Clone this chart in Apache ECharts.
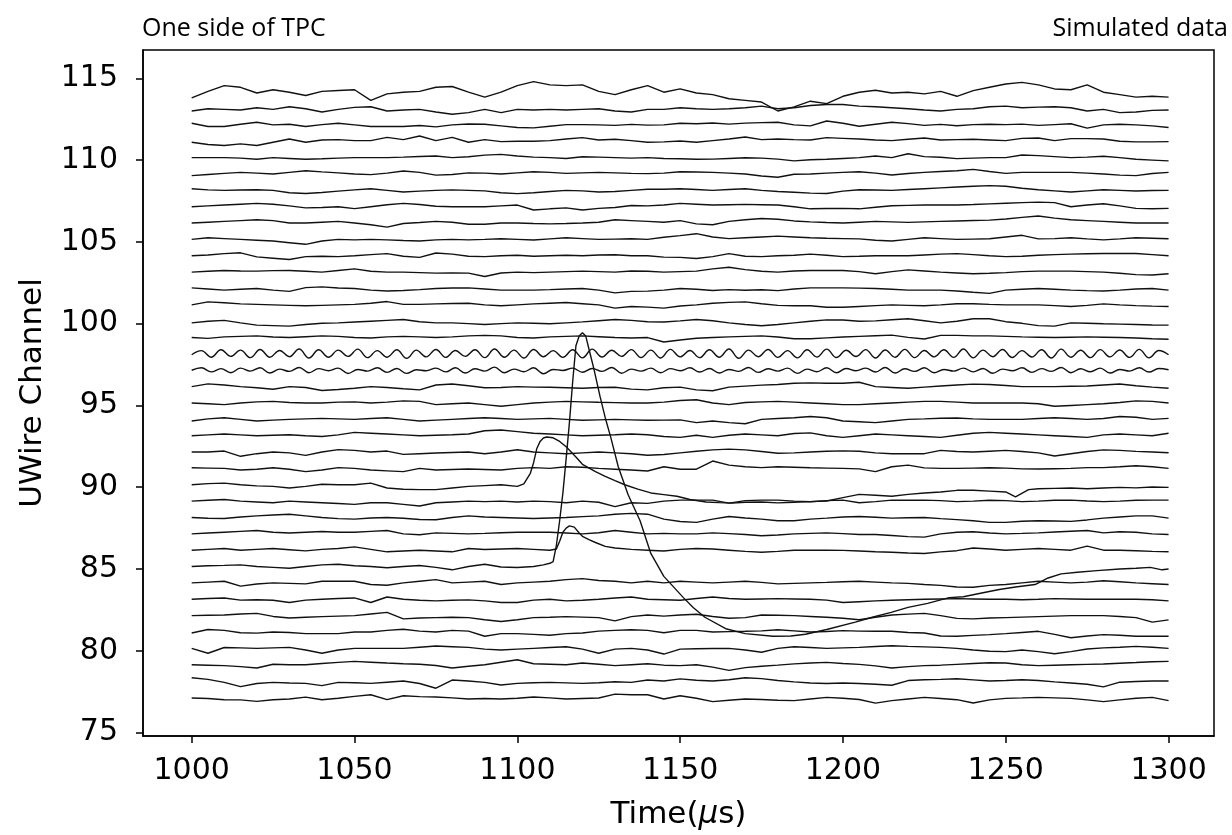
<!DOCTYPE html>
<html><head><meta charset="utf-8">
<script src="https://cdn.jsdelivr.net/npm/echarts@6/dist/echarts.min.js"></script>
<style>html,body{margin:0;padding:0;background:#fff}#c{width:1232px;height:835px}</style>
</head><body><div id="c"></div>
<script>
// sample times (µs)
const times5 = [1000,1005,1010,1015,1020,1025,1030,1035,1040,1045,1050,1055,1060,1065,1070,1075,1080,1085,1090,1095,1100,1105,1110,1115,1120,1125,1130,1135,1140,1145,1150,1155,1160,1165,1170,1175,1180,1185,1190,1195,1200,1205,1210,1215,1220,1225,1230,1235,1240,1245,1250,1255,1260,1265,1270,1275,1280,1285,1290,1295,1300];
const times3 = [1000,1003,1006,1009,1012,1015,1018,1021,1024,1027,1030,1033,1036,1039,1042,1045,1048,1051,1054,1057,1060,1063,1066,1069,1072,1075,1078,1081,1084,1087,1090,1093,1096,1099,1102,1105,1108,1111,1114,1117,1120,1123,1126,1129,1132,1135,1138,1141,1144,1147,1150,1153,1156,1159,1162,1165,1168,1171,1174,1177,1180,1183,1186,1189,1192,1195,1198,1201,1204,1207,1210,1213,1216,1219,1222,1225,1228,1231,1234,1237,1240,1243,1246,1249,1252,1255,1258,1261,1264,1267,1270,1273,1276,1279,1282,1285,1288,1291,1294,1297,1300];

// tick labels
const xTicks = [1000,1050,1100,1150,1200,1250,1300];
const yTicks = [75,80,85,90,95,100,105,110,115];

// waveform offsets from the channel number, in hundredths of a channel
const ch114 = [-20,20,55,45,10,30,15,-5,20,25,30,-35,5,15,20,45,50,15,-15,15,55,80,60,55,60,20,0,30,55,15,35,10,0,-25,-35,-45,-100,-75,-40,-55,-10,15,27,10,15,5,20,-10,25,45,65,75,60,35,30,60,15,0,-15,-10,-15];
const ch113 = [0,14,10,6,20,10,26,14,-6,10,22,26,0,6,10,-6,-20,-10,10,-10,10,6,10,6,10,14,0,-6,10,10,20,14,10,14,20,30,14,20,34,40,40,30,26,20,14,6,0,10,14,26,30,20,24,26,20,0,10,-10,-6,4,6];
const ch112 = [25,5,5,19,31,15,19,5,17,25,15,5,5,5,11,3,15,21,19,9,-1,-3,7,17,17,15,12,18,14,15,25,22,27,20,26,29,31,15,9,39,25,7,19,31,23,12,18,10,17,19,17,20,12,17,22,-5,15,19,15,9,-1];
const ch111 = [9,-5,-11,-1,-11,9,29,9,23,25,19,19,39,25,47,19,39,9,25,13,15,15,19,29,37,23,27,19,9,11,17,9,19,29,41,25,29,25,23,37,33,29,23,19,27,35,23,25,27,23,19,33,35,19,31,31,29,15,11,11,13];
const ch110 = [15,15,15,12,5,15,10,5,8,12,15,15,15,18,22,25,15,20,30,35,25,18,15,10,20,18,15,12,15,10,8,5,6,10,14,12,6,-5,2,5,10,15,25,15,39,21,17,9,12,15,15,31,27,21,15,18,23,15,5,0,-5];
const ch109 = [5,12,19,25,20,15,25,35,28,22,15,11,20,33,25,8,12,22,20,15,22,29,25,19,22,25,22,19,17,20,29,27,25,20,15,3,-5,13,15,20,25,29,20,9,18,25,30,35,43,30,19,25,25,25,25,20,15,8,5,18,25];
const ch108 = [25,18,15,17,19,15,0,-4,2,10,18,25,15,5,10,15,18,15,12,0,-5,0,8,15,12,5,8,15,22,22,25,20,15,20,25,15,8,3,-2,-4,10,19,17,15,20,25,30,35,40,44,40,28,19,12,5,12,19,15,11,14,15];
const ch107 = [15,20,25,30,35,30,20,8,10,15,3,15,27,35,28,18,15,15,15,20,25,-5,2,8,-5,5,10,22,20,25,35,30,25,27,29,27,25,15,2,4,5,2,12,21,23,25,25,25,28,32,36,40,43,40,15,25,33,20,5,2,5];
const ch106 = [15,20,25,30,35,30,15,15,20,25,15,5,-10,12,18,25,20,8,8,15,15,12,10,12,15,20,35,30,25,20,30,10,5,25,35,43,38,28,22,18,15,20,25,22,19,22,25,28,31,33,40,50,58,45,35,30,25,20,15,15,15];
const ch105 = [15,25,20,15,10,5,-5,-15,5,15,12,15,12,8,5,12,15,12,15,19,15,11,18,25,20,15,17,19,15,28,38,50,30,20,25,30,35,30,25,22,20,18,10,5,15,25,20,15,17,19,30,40,18,20,25,18,12,18,25,22,19];
const ch104 = [15,20,28,33,8,0,-8,10,12,10,15,22,28,12,5,32,25,12,10,15,18,12,15,18,15,20,21,15,15,7,5,-2,10,28,12,10,15,18,25,18,10,12,15,15,15,20,25,28,22,15,10,12,18,22,25,27,29,29,29,22,15];
const ch103 = [15,20,25,22,21,24,25,20,15,25,35,20,15,15,12,9,10,9,-12,10,15,12,15,18,21,18,15,22,20,15,18,21,35,45,30,20,15,22,25,25,25,18,5,18,29,22,15,10,5,8,12,18,21,21,21,18,15,8,0,-3,5];
const ch102 = [19,12,5,10,15,5,-3,20,25,18,15,5,0,3,8,15,18,19,12,5,5,5,8,12,15,5,-12,-3,-1,5,15,10,3,8,4,7,2,12,19,19,19,17,15,10,5,5,5,0,-8,-15,5,10,15,10,5,2,0,5,12,15,5];
const ch101 = [15,33,28,21,18,15,12,9,12,15,18,25,35,18,18,21,23,25,15,9,15,21,25,29,22,15,-5,5,1,-5,8,15,25,30,33,22,12,9,9,0,0,5,10,15,12,9,15,22,22,18,15,15,15,10,5,12,21,15,10,7,5];
const ch100 = [5,15,20,5,-9,-12,-15,-5,2,5,10,15,20,25,12,5,5,0,-5,0,5,2,-1,5,11,18,25,20,12,10,17,25,18,5,-5,-13,-5,5,15,23,22,15,17,24,30,18,5,15,30,30,12,2,-12,-15,5,2,-1,-3,-5,-8,-9];
const ch99 = [15,10,19,22,25,18,15,20,25,22,15,12,19,22,19,15,19,25,28,25,15,12,19,22,25,20,15,12,15,-12,0,11,15,19,22,25,18,8,8,13,18,22,26,30,16,6,28,28,25,25,22,19,17,15,17,19,17,15,12,8,5];
const ch98 = [10,35,-5,40,0,38,-8,42,-5,36,-2,45,-10,40,-5,38,0,44,-8,35,-5,40,-12,38,-3,42,-6,36,0,40,-8,45,-5,38,-10,42,-2,35,-6,40,-9,44,-4,37,0,41,-7,38,-10,43,-3,36,-8,40,-5,45,-12,38,-2,42,-6,35,-9,40,-4,44,-7,37,-1,41,-10,39,-5,43,-8,36,-3,40,-6,45,-9,38,-2,42,-7,35,-4,40,-10,44,-5,37,-8,41,-3,39,-6,43,-9,36,10];
const ch97 = [15,30,5,25,0,28,10,30,-2,22,8,32,0,25,12,28,-5,20,10,30,2,26,-4,18,12,28,5,30,-2,24,10,34,0,22,6,30,-6,20,14,28,3,26,8,32,-3,22,10,28,0,25,12,30,4,26,-2,20,8,32,2,24,10,28,-4,22,6,30,0,26,12,28,4,32,-2,24,8,30,0,20,10,28,5,26,-3,22,12,30,2,25,8,32,0,24,6,28,-2,20,10,30,4,26,18];
const ch96 = [15,32,25,15,8,-1,15,10,-9,-3,5,15,10,2,-5,25,31,20,8,10,15,12,11,8,5,10,11,0,-5,8,12,-5,-10,12,18,24,28,36,38,36,36,42,15,10,5,12,19,25,30,28,22,15,15,15,17,19,25,31,20,12,5];
const ch95 = [15,10,5,15,22,25,18,15,15,20,22,15,20,28,25,5,10,15,5,-5,5,15,20,25,22,19,17,15,15,20,30,35,15,5,18,22,25,20,15,10,5,5,10,15,20,25,25,20,15,15,15,15,10,-5,0,5,10,18,28,25,15];
const ch94 = [5,18,25,15,5,10,15,18,21,18,15,20,25,15,5,10,15,20,25,20,15,18,21,15,9,12,15,12,9,10,12,-5,5,-5,-12,15,20,25,32,25,5,0,-5,5,15,18,22,23,18,15,15,15,20,25,20,15,20,32,28,15,21];
const ch93 = [15,20,25,20,15,18,21,15,10,20,35,30,25,20,15,18,21,25,45,50,40,30,25,20,15,18,21,25,21,10,5,18,5,18,25,20,15,28,32,15,5,15,25,20,15,10,5,18,30,35,30,25,20,15,10,5,20,25,20,15,30];
const ch92 = [15,15,21,-11,5,15,10,-5,15,30,25,15,21,1,5,9,12,15,5,15,29,15,10,5,10,15,10,5,-5,0,10,20,28,33,28,18,8,10,15,20,22,20,10,5,5,5,25,18,15,20,25,18,10,-9,5,18,28,25,19,15,11];
const ch91 = [19,17,15,5,10,19,10,-5,5,20,15,5,0,-5,15,5,8,11,8,5,15,20,15,25,22,15,10,5,-1,25,10,10,60,35,25,20,25,22,19,17,15,12,-5,25,35,18,15,15,17,19,17,12,11,13,15,20,20,25,31,25,15];
const ch90 = [[1000,15],[1005,22],[1010,25],[1015,15],[1020,8],[1025,5],[1030,-5],[1035,5],[1040,18],[1045,15],[1050,15],[1055,25],[1060,-5],[1065,-12],[1070,-15],[1075,-15],[1080,-5],[1085,5],[1090,10],[1095,15],[1100,5],[1102,20],[1104,85],[1105,150],[1106,237],[1107,280],[1108,301],[1109,307],[1111,302],[1113,280],[1115,247],[1118,185],[1120,140],[1124,95],[1127,66],[1130,40],[1133,15],[1137,-12],[1141,-35],[1145,-45],[1149,-55],[1153,-75],[1158,-90],[1162,-94],[1166,-97],[1170,-92],[1175,-90],[1180,-96],[1185,-92],[1190,-88],[1195,-84],[1200,-64],[1205,-44],[1210,-49],[1215,-55],[1220,-44],[1225,-35],[1230,-29],[1235,-19],[1240,-19],[1245,-24],[1250,-29],[1253,-59],[1257,-15],[1260,-9],[1265,-7],[1270,-5],[1275,-9],[1280,-5],[1285,-1],[1290,-4],[1295,1],[1300,-1]];
const ch89 = [15,20,25,15,10,5,15,10,5,0,-5,5,5,-5,-15,5,10,15,12,15,10,15,12,5,15,8,-19,5,1,15,21,21,21,3,18,21,21,15,11,18,21,5,12,21,20,21,18,12,15,20,18,12,15,20,21,16,12,15,20,21,21];
const ch88 = [15,10,9,18,25,30,35,25,15,8,5,12,15,10,3,1,15,25,18,15,12,9,12,15,20,25,35,40,35,5,-10,-15,5,21,12,5,-5,-5,5,11,18,21,16,11,13,15,8,2,-5,-15,-15,-8,-5,-7,-9,0,11,18,25,25,11];
const ch87 = [15,20,25,30,35,25,20,25,29,25,25,30,35,15,9,21,18,15,18,22,25,25,25,20,15,22,35,25,15,18,15,15,21,16,11,3,8,15,18,21,16,11,11,5,-2,-5,15,25,28,20,15,18,21,26,31,35,21,28,25,15,11];
const ch86 = [[1000,15],[1005,20],[1010,25],[1015,15],[1020,20],[1025,25],[1030,18],[1035,11],[1040,20],[1045,25],[1050,35],[1055,20],[1060,5],[1065,10],[1070,15],[1075,10],[1080,5],[1085,25],[1090,19],[1095,22],[1100,25],[1105,20],[1110,15],[1112,22],[1113,70],[1114,125],[1115,150],[1116,164],[1117.5,156],[1119,120],[1120,100],[1122,80],[1124,62],[1127,38],[1130,28],[1135,20],[1140,15],[1145,10],[1150,20],[1155,25],[1160,22],[1165,15],[1170,8],[1175,2],[1180,8],[1185,15],[1190,15],[1195,15],[1200,14],[1205,10],[1210,5],[1215,2],[1220,-2],[1225,-5],[1230,5],[1235,12],[1240,28],[1245,22],[1250,15],[1255,20],[1260,25],[1265,20],[1270,15],[1275,40],[1280,15],[1285,15],[1290,12],[1295,8],[1300,5]];
const ch85 = [[1000,15],[1005,20],[1010,22],[1015,25],[1020,15],[1025,10],[1030,5],[1035,15],[1040,25],[1045,29],[1050,20],[1055,15],[1060,8],[1065,15],[1070,21],[1075,10],[1080,-5],[1085,15],[1090,29],[1095,12],[1100,9],[1105,15],[1108,25],[1110,35],[1111,45],[1112,145],[1113,295],[1114,465],[1115,675],[1116,895],[1117,1145],[1118,1365],[1119,1425],[1120,1445],[1121,1425],[1122,1345],[1123.5,1225],[1125.4,1055],[1127,925],[1128.7,805],[1131,625],[1134,455],[1137.7,295],[1141,95],[1145,-45],[1151,-175],[1154,-235],[1157.6,-295],[1164,-365],[1170,-395],[1178.5,-411],[1184,-410],[1188.5,-399],[1195,-370],[1203.8,-325],[1209,-295],[1214.8,-265],[1220,-235],[1226,-210],[1232.6,-175],[1237,-170],[1243,-145],[1248,-125],[1253,-110],[1259,-95],[1263,-55],[1267,-30],[1272,-20],[1278,-10],[1285,0],[1290,5],[1294.4,10],[1298,-5],[1300,0]];
const ch84 = [15,20,25,-5,8,15,12,9,25,25,25,5,1,15,25,35,15,20,25,5,15,20,25,35,41,30,25,15,25,15,25,20,15,20,25,18,9,12,15,18,22,25,20,15,12,5,0,-10,-12,0,5,15,25,20,15,20,28,22,15,10,5];
const ch83 = [15,20,23,10,12,9,-5,10,15,20,23,-5,29,15,9,5,9,11,5,-5,-5,10,15,5,9,15,23,29,15,12,9,20,29,20,15,17,19,17,15,10,-5,0,5,9,12,15,17,19,17,15,15,12,15,19,17,15,15,15,15,12,5];
const ch82 = [15,17,19,25,29,10,0,5,9,12,15,25,35,-5,0,3,5,3,-10,-21,-10,3,5,9,6,3,-17,9,19,12,19,23,10,-1,3,19,17,15,10,5,-1,-10,5,19,24,29,15,-2,-5,0,3,6,9,12,15,15,15,10,3,-25,-11];
const ch81 = [9,30,25,10,8,15,12,5,5,5,15,15,25,32,20,15,25,20,-11,5,5,0,-5,5,9,20,25,29,25,10,25,25,15,17,19,22,29,22,15,18,23,20,19,19,12,9,-10,-11,-6,-1,5,12,19,0,-20,-10,-1,-5,-11,-11,-11];
const ch80 = [15,-15,20,18,15,18,21,5,-15,5,15,15,15,15,22,29,25,21,10,5,10,15,20,25,10,-15,10,15,5,-20,10,12,14,15,5,-9,15,25,20,15,18,21,26,31,27,24,21,15,5,-3,-5,5,-5,-18,-5,11,18,22,27,22,15];
const ch79 = [15,12,9,3,-5,18,15,15,22,29,35,30,25,21,18,10,-5,5,15,30,45,21,18,15,25,18,9,15,21,12,9,15,0,-20,-3,5,12,20,25,29,22,17,8,-5,3,9,12,17,22,27,25,15,9,12,15,17,19,24,28,33,35];
const ch78 = [35,25,7,-19,0,7,3,1,-13,7,5,1,8,15,0,-29,21,15,7,-9,1,5,7,4,1,5,11,7,21,15,28,20,15,23,35,30,18,10,3,0,3,0,-5,-11,18,23,25,29,22,15,18,23,18,10,3,-5,-21,8,12,15,15];
const ch77 = [11,8,1,0,-9,1,5,17,1,10,21,31,1,25,20,17,12,5,8,5,10,17,12,5,8,11,35,31,31,5,25,10,-11,-2,5,2,-2,-5,5,15,10,2,-20,-5,5,15,8,1,-19,0,9,12,15,12,9,0,-11,0,10,15,-5];

const gridTraces = [[114,ch114],[113,ch113],[112,ch112],[111,ch111],[110,ch110],[109,ch109],[108,ch108],[107,ch107],[106,ch106],[105,ch105],[104,ch104],[103,ch103],[102,ch102],[101,ch101],[100,ch100],[99,ch99],[96,ch96],[95,ch95],[94,ch94],[93,ch93],[92,ch92],[91,ch91],[89,ch89],[88,ch88],[87,ch87],[84,ch84],[83,ch83],[82,ch82],[81,ch81],[80,ch80],[79,ch79],[78,ch78],[77,ch77]];
const fineTraces = [[98,ch98],[97,ch97]];
const pulseTraces = [[90,ch90],[86,ch86],[85,ch85]];

const series = [];
function mk(data, smooth){
  return {type:'line', data:data, showSymbol:false, symbol:'none', silent:true, smooth:smooth || false,
    lineStyle:{color:'#111', width:1.4}, animation:false};
}
gridTraces.forEach(([ch,d]) => series.push(mk(times5.map((t,i)=>[t, ch + d[i]/100]))));
fineTraces.forEach(([ch,d]) => series.push(mk(times3.map((t,i)=>[t, ch + d[i]/100]), 0.4)));
pulseTraces.forEach(([ch,p]) => series.push(mk(p.map(q=>[q[0], ch + q[1]/100]))));

const chart = echarts.init(document.getElementById('c'), null, {renderer:'canvas'});
const font = 'DejaVu Sans';
chart.setOption({
  animation:false,
  backgroundColor:'#fff',
  grid:{left:143, right:18, top:50, bottom:94, show:true, borderColor:'#000', borderWidth:1.5, backgroundColor:'transparent'},
  xAxis:{type:'value', min:985.05, max:1313.95,
    name:'Time({i|μ}s)', nameLocation:'middle', nameGap:63,
    nameTextStyle:{fontFamily:font, fontSize:31, color:'#000', rich:{i:{fontFamily:font, fontSize:31, fontStyle:'italic', color:'#000'}}},
    axisLine:{show:true, lineStyle:{color:'#000', width:1.5}},
    axisTick:{show:true, length:7, lineStyle:{color:'#000', width:1.5}, customValues:xTicks},
    axisLabel:{fontFamily:font, fontSize:30, color:'#000', margin:20, customValues:xTicks, formatter:(v)=>String(v)},
    splitLine:{show:false}},
  yAxis:{type:'value', min:74.79, max:116.73,
    name:'UWire Channel', nameLocation:'middle', nameGap:95,
    nameTextStyle:{fontFamily:font, fontSize:31, color:'#000'},
    axisLine:{show:true, lineStyle:{color:'#000', width:1.5}},
    axisTick:{show:true, length:7, lineStyle:{color:'#000', width:1.5}, customValues:yTicks},
    axisLabel:{fontFamily:font, fontSize:30, color:'#000', margin:25, customValues:yTicks, formatter:(v)=>String(v)},
    splitLine:{show:false}},
  graphic:[
    {type:'text', left:142, top:16, style:{text:'One side of TPC', font:'25px "Open Sans"', fill:'#000'}},
    {type:'text', right:4, top:16, style:{text:'Simulated data', font:'25px "Open Sans"', fill:'#000'}}
  ],
  series:series
});
</script>
</body></html>
